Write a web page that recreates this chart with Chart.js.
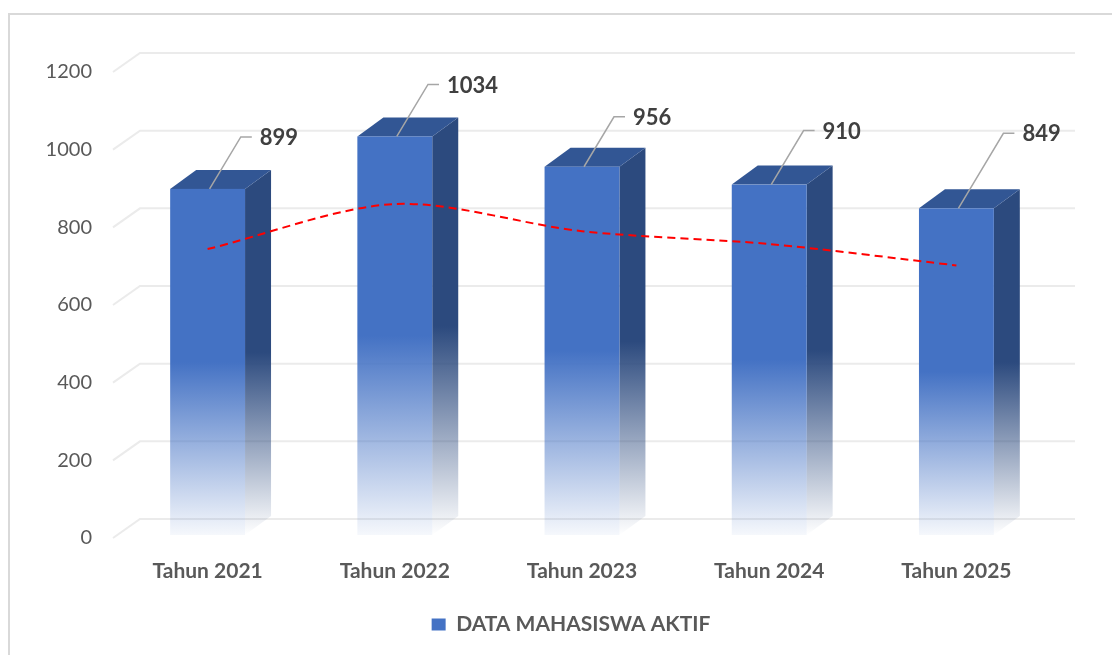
<!DOCTYPE html>
<html>
<head>
<meta charset="utf-8">
<script src="https://cdn.jsdelivr.net/npm/chart.js@4.4.1/dist/chart.umd.min.js"></script>
<style>
  html, body { margin: 0; padding: 0; background: #fff; }
  #wrap { width: 1112px; height: 655px; }
</style>
</head>
<body>
<div id="wrap"><canvas id="chart" width="1112" height="655"></canvas></div>
<script>
const categories = ["Tahun 2021", "Tahun 2022", "Tahun 2023", "Tahun 2024", "Tahun 2025"];
const mahasiswaAktif = [899, 1034, 956, 910, 849];
// red dashed curve
const garisTren = [744, 860, 790, 757, 702];
const yMax = 1200;
const yStep = 200;

const DX = 26, DY = 19; // depth of the fake 3d
// how far each callout leader climbs (the last one sits higher)
const leaderRise = [52, 52, 50, 54, 75];

const frame3d = {
  id: "frame3d",
  afterLayout(chart) {
    // legend sits centred under the plot + its depth, not the whole box
    const lg = chart.legend;
    lg.left += 46;
    lg.right += 46;
  },
  beforeDraw(chart) {
    const c = chart.ctx;
    c.save();
    c.fillStyle = "#fff";
    c.fillRect(0, 0, chart.width, chart.height);
    c.strokeStyle = "#d9d9d9";
    c.lineWidth = 2;
    c.beginPath();
    c.moveTo(9, chart.height);
    c.lineTo(9, 14);
    c.lineTo(chart.width, 14);
    c.stroke();
    c.restore();
  },
  beforeDatasetsDraw(chart) {
    const c = chart.ctx;
    const area = chart.chartArea;
    const yScale = chart.scales.y;

    // back wall gridlines
    c.save();
    c.strokeStyle = "#ebebeb";
    c.lineWidth = 2;
    yScale.ticks.forEach(t => {
      const py = yScale.getPixelForValue(t.value);
      c.beginPath();
      c.moveTo(area.left - 1, py);
      c.lineTo(area.left + DX, py - DY);
      c.lineTo(area.right + DX - 1, py - DY);
      c.stroke();
    });
    c.restore();

    // 3d columns
    const meta = chart.getDatasetMeta(0);
    meta.data.forEach(bar => {
      const { x, y, base, width } = bar.getProps(["x", "y", "base", "width"], true);
      const l = x - width / 2, r = x + width / 2;
      const b = base - 3;
      c.save();

      // side
      let g = c.createLinearGradient(0, y - DY, 0, b);
      g.addColorStop(0, "#2c4a7e");
      g.addColorStop(0.5, "#2c4a7e");
      g.addColorStop(1, "rgba(44,74,126,0)");
      c.fillStyle = g;
      c.beginPath();
      c.moveTo(r, y);
      c.lineTo(r + DX, y - DY);
      c.lineTo(r + DX, b - DY);
      c.lineTo(r, b);
      c.closePath();
      c.fill();

      // top
      c.fillStyle = "#325694";
      c.beginPath();
      c.moveTo(l, y);
      c.lineTo(l + DX, y - DY);
      c.lineTo(r + DX, y - DY);
      c.lineTo(r, y);
      c.closePath();
      c.fill();

      // front
      g = c.createLinearGradient(0, y, 0, b);
      g.addColorStop(0, "#4472c4");
      g.addColorStop(0.5, "#4472c4");
      g.addColorStop(1, "rgba(68,114,196,0.05)");
      c.fillStyle = g;
      c.fillRect(l, y, width, b - y);
      c.restore();
    });
  },
  afterDatasetsDraw(chart) {
    const c = chart.ctx;
    const meta = chart.getDatasetMeta(0);
    c.save();
    meta.data.forEach((bar, i) => {
      const sx = bar.x + 2, sy = bar.y;
      const rise = leaderRise[i];
      const run = rise * 0.6;
      c.strokeStyle = "#a6a6a6";
      c.lineWidth = 1.5;
      c.beginPath();
      c.moveTo(sx, sy);
      c.lineTo(sx + run, sy - rise);
      c.lineTo(sx + run + 11, sy - rise);
      c.stroke();
      c.fillStyle = "#404040";
      c.font = "bold 22px Lato";
      c.textAlign = "left";
      c.textBaseline = "middle";
      c.fillText(String(mahasiswaAktif[i]), sx + run + 19, sy - rise + 1);
    });
    c.restore();
  }
};

new Chart(document.getElementById("chart"), {
  type: "bar",
  data: {
    labels: categories,
    datasets: [
      {
        label: "DATA MAHASISWA AKTIF",
        data: mahasiswaAktif,
        backgroundColor: "rgba(0,0,0,0)",
        borderWidth: 0,
        barPercentage: 0.8,
        categoryPercentage: 0.5
      },
      {
        type: "line",
        label: "tren",
        data: garisTren,
        borderColor: "#ff0000",
        borderWidth: 2,
        borderDash: [8, 5],
        tension: 0.3,
        pointRadius: 0,
        fill: false
      }
    ]
  },
  options: {
    responsive: false,
    animation: false,
    layout: { padding: { top: 72, right: 62, bottom: 10, left: 0 } },
    scales: {
      x: {
        grid: { display: false, drawTicks: false },
        border: { display: false },
        ticks: { color: "#595959", font: { family: "Lato", size: 21, weight: "bold" }, padding: 21 },
        afterFit(s) { s.height = 66; }
      },
      y: {
        min: 0,
        max: yMax,
        grid: { display: false, drawTicks: false },
        border: { display: false },
        ticks: {
          stepSize: yStep,
          color: "#595959",
          font: { family: "Lato", size: 20 },
          padding: 22,
          callback: v => String(v)
        },
        afterFit(s) { s.width = 114; }
      }
    },
    plugins: {
      tooltip: { enabled: false },
      legend: {
        position: "bottom",
        labels: {
          color: "#595959",
          font: { family: "Lato", size: 21, weight: "bold" },
          boxWidth: 14,
          boxHeight: 12,
          filter: item => item.datasetIndex === 0,
          generateLabels(chart) {
            const items = Chart.defaults.plugins.legend.labels.generateLabels(chart);
            items.forEach(it => { it.fillStyle = "#4472c4"; it.strokeStyle = "#4472c4"; it.lineWidth = 0; });
            return items;
          }
        }
      }
    }
  },
  plugins: [frame3d]
});
</script>
</body>
</html>
